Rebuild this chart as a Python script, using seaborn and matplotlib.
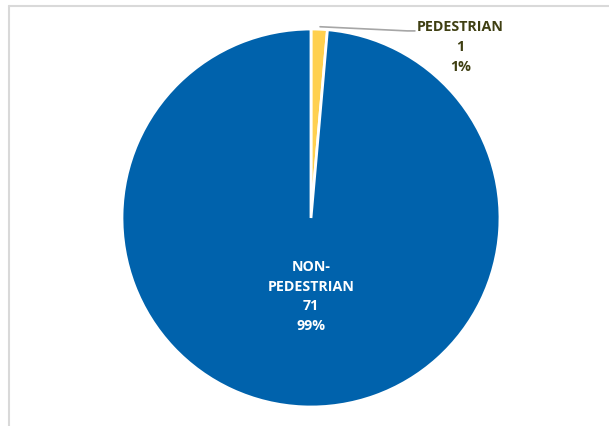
import matplotlib
matplotlib.use("Agg")
import matplotlib.pyplot as plt
import seaborn as sns
from matplotlib.lines import Line2D

categories = ["PEDESTRIAN", "NON-\nPEDESTRIAN"]
values = [1, 71]
percents = ["1%", "99%"]
colors = ["#FFD04F", "#0062AC"]

sns.set_theme(style="white")
plt.rcParams['font.family'] = ['Open Sans', 'DejaVu Sans']

fig = plt.figure(figsize=(6.09, 4.26), dpi=100)
ax = fig.add_axes([0.2003, 0.0446, 0.6207, 0.8873])
ax.pie(values, colors=colors, startangle=90, counterclock=False, radius=1,
       wedgeprops=dict(edgecolor="white", linewidth=2))
ax.set_xlim(-1, 1)
ax.set_ylim(-1, 1)
ax.set_aspect("equal")
ax.axis("off")

# outside label for pedestrian
ax.plot([0.048, 0.51, 0.55], [1.012, 0.99, 0.99], color="#A6A6A6", lw=1.2, clip_on=False)
ax.text(0.79, 0.905, f"{categories[0]}\n{values[0]}\n{percents[0]}", ha="center", va="center",
        fontsize=10.3, fontweight="bold", color="#3F3F12", linespacing=1.55)

# inside label
ax.text(0.0, -0.415, f"{categories[1]}\n{values[1]}\n{percents[1]}", ha="center", va="center",
        fontsize=10.3, fontweight="bold", color="white", linespacing=1.5)

# frame lines
fig.add_artist(Line2D([9/609, 1], [1-6/426, 1-6/426], color="#D9D9D9", lw=1.5))
fig.add_artist(Line2D([9/609, 9/609], [0, 1-6/426], color="#D9D9D9", lw=1.5))

fig.savefig("out.png", dpi=100)
